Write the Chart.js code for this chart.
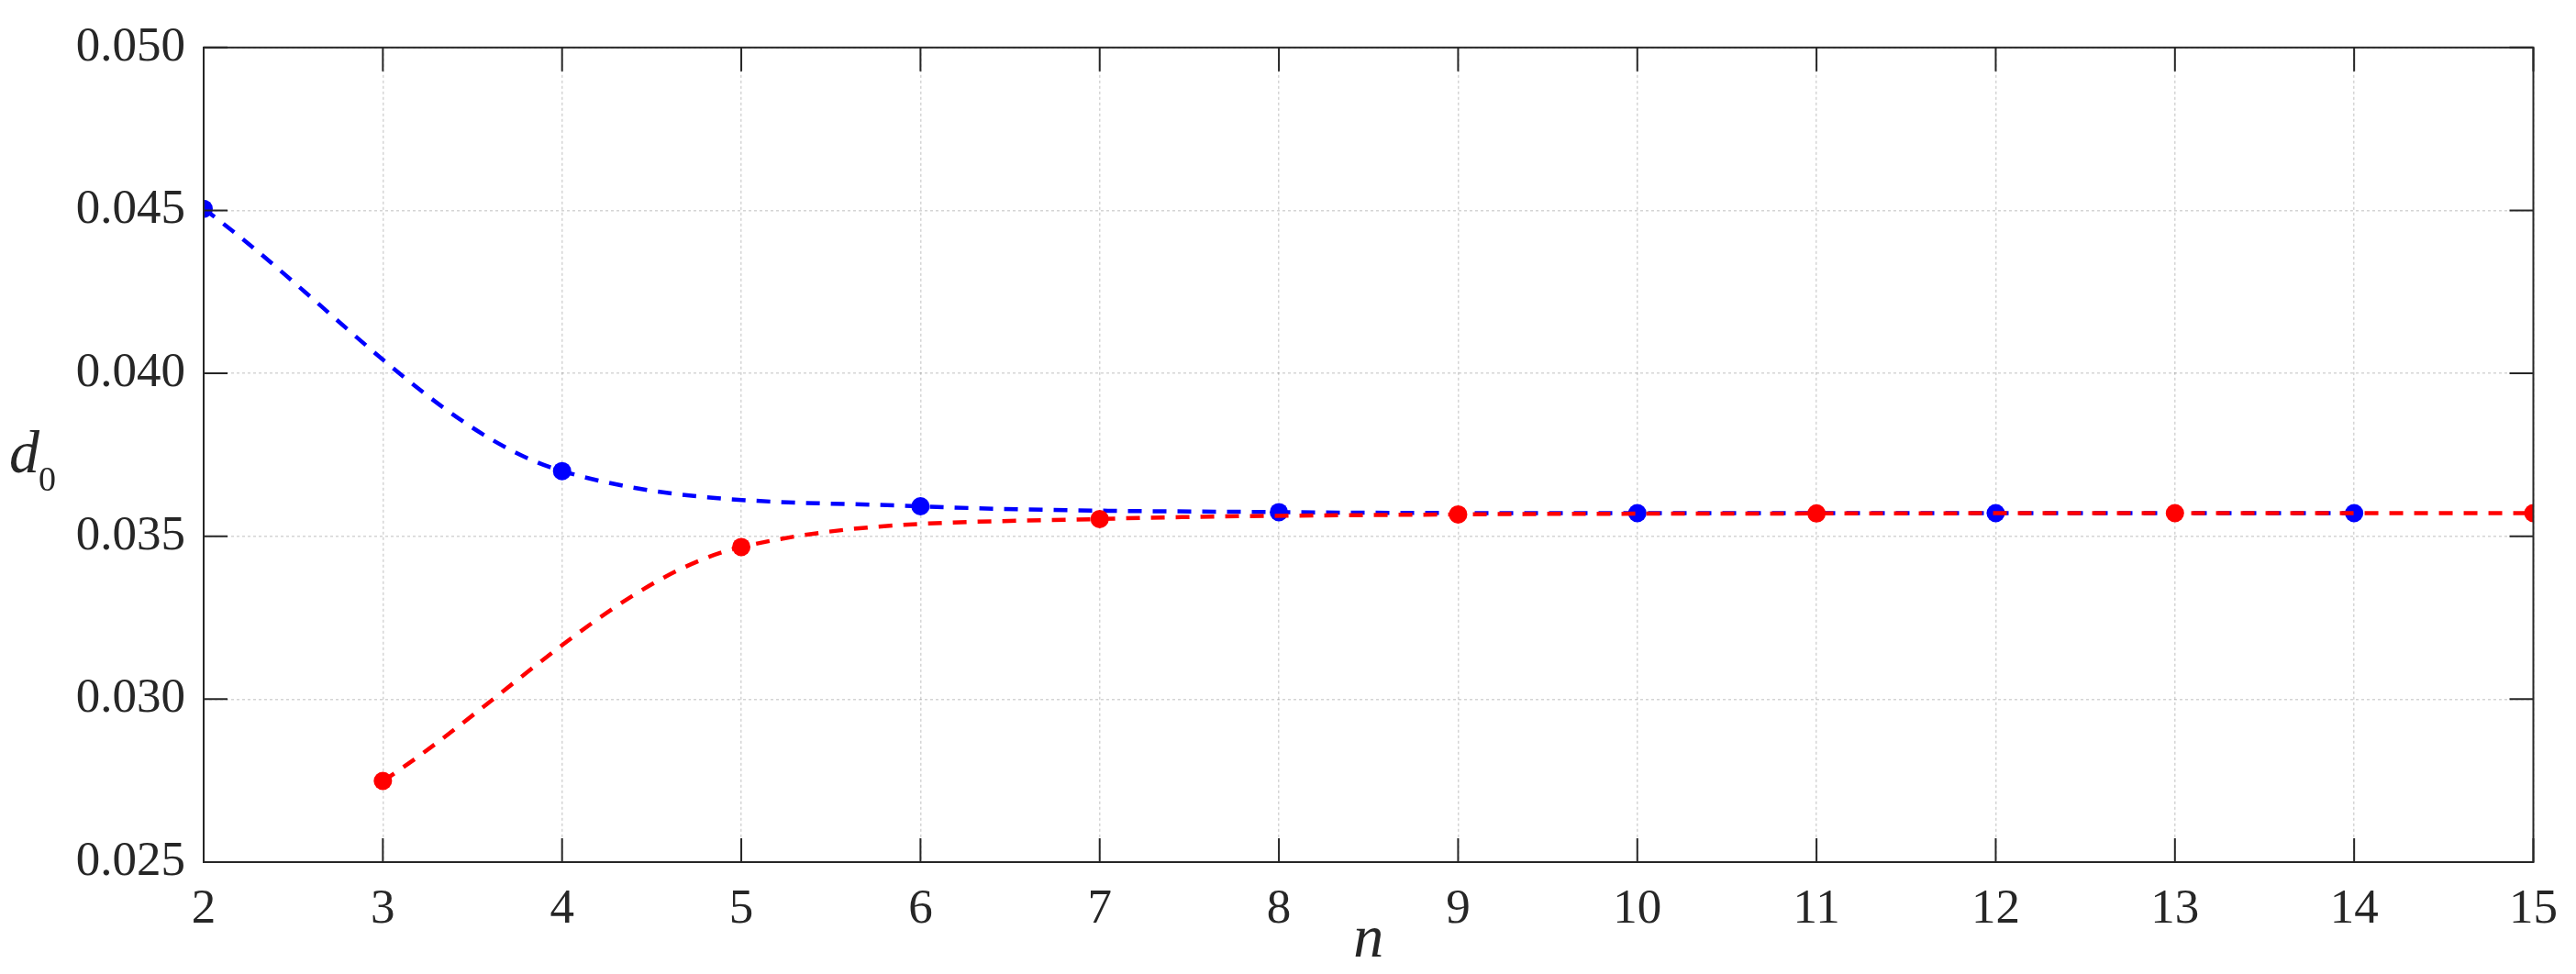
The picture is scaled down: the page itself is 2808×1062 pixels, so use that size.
<!DOCTYPE html>
<html>
<head>
<meta charset="utf-8">
<script src="https://cdn.jsdelivr.net/npm/chart.js@4.4.1/dist/chart.umd.min.js"></script>
<style>
  html, body { margin: 0; padding: 0; background: #fff; }
  #wrap { position: relative; width: 2808px; height: 1062px; }
  #ylab { position: absolute; left: 0; top: 0; font-family: "Liberation Serif", serif; color: #262626; line-height: 1; }
  #ylab .d { position: absolute; left: 10px; top: 460px; font-size: 66px; font-style: italic; }
  #ylab .s { position: absolute; left: 42px; top: 503px; font-size: 38px; }
</style>
</head>
<body>
<div id="wrap">
  <canvas id="line_chart" width="2808" height="1062"></canvas>
  <div id="ylab"><span class="d">d</span><span class="s">0</span></div>
</div>
<script>
// n values and d0 for the two series
var nBlue = [2, 4, 6, 8, 10, 12, 14];
var d0Blue = [0.04505, 0.03700, 0.03592, 0.03574, 0.03571, 0.03571, 0.03571];
var nRed = [3, 5, 7, 9, 11, 13, 15];
var d0Red = [0.02749, 0.03467, 0.03553, 0.03567, 0.03570, 0.03571, 0.03571];
var xTicks = [2, 3, 4, 5, 6, 7, 8, 9, 10, 11, 12, 13, 14, 15];
var yTicks = [0.025, 0.030, 0.035, 0.040, 0.045, 0.050];

var axisColor = '#262626';
var serif = "'Liberation Serif', 'Times New Roman', serif";

function points(xs, ys) {
    return xs.map(function (x, i) { return { x: x, y: ys[i] }; });
}

// box round the plot with inward tick marks on all four sides
var boxTicks = {
    id: 'boxTicks',
    afterDatasetsDraw: function (chart) {
        var ctx = chart.ctx, a = chart.chartArea;
        var xs = chart.scales.x, ys = chart.scales.y;
        var len = 26;
        ctx.save();
        ctx.strokeStyle = axisColor;
        ctx.lineWidth = 2;
        ctx.beginPath();
        xTicks.forEach(function (v) {
            var px = xs.getPixelForValue(v);
            ctx.moveTo(px, a.bottom); ctx.lineTo(px, a.bottom - len);
            ctx.moveTo(px, a.top); ctx.lineTo(px, a.top + len);
        });
        yTicks.forEach(function (v) {
            var py = ys.getPixelForValue(v);
            ctx.moveTo(a.left, py); ctx.lineTo(a.left + len, py);
            ctx.moveTo(a.right, py); ctx.lineTo(a.right - len, py);
        });
        ctx.stroke();
        ctx.strokeRect(a.left, a.top, a.right - a.left, a.bottom - a.top);
        ctx.restore();
    }
};

new Chart(document.getElementById('line_chart').getContext('2d'), {
    type: 'line',
    data: {
        datasets: [{
            label: 'blue',
            data: points(nBlue, d0Blue),
            borderColor: '#0000ff',
            backgroundColor: '#0000ff',
            borderWidth: 4.5,
            borderDash: [15, 12],
            cubicInterpolationMode: 'monotone',
            pointRadius: 10,
            pointBorderWidth: 0,
            pointBackgroundColor: '#0000ff',
            fill: false,
            order: 2
        }, {
            label: 'red',
            data: points(nRed, d0Red),
            borderColor: '#ff0000',
            backgroundColor: '#ff0000',
            borderWidth: 4.5,
            borderDash: [15, 12],
            cubicInterpolationMode: 'monotone',
            pointRadius: 10,
            pointBorderWidth: 0,
            pointBackgroundColor: '#ff0000',
            fill: false,
            order: 1
        }]
    },
    options: {
        responsive: false,
        animation: false,
        devicePixelRatio: 1,
        layout: { padding: { left: 0, right: 44, top: 40, bottom: 0 } },
        plugins: { legend: { display: false }, tooltip: { enabled: false } },
        scales: {
            x: {
                type: 'linear',
                min: 2,
                max: 15,
                afterFit: function (scale) { scale.height = 122; },
                afterBuildTicks: function (scale) { scale.ticks = xTicks.map(function (v) { return { value: v }; }); },
                ticks: {
                    padding: 20,
                    color: axisColor,
                    font: { family: serif, size: 53 },
                    maxRotation: 0
                },
                grid: { color: 'rgba(38,38,38,0.2)', lineWidth: 1.5, drawTicks: false },
                border: { display: false, dash: [3, 3] },
                title: {
                    display: true,
                    text: 'n',
                    color: axisColor,
                    font: { family: serif, size: 66, style: 'italic', lineHeight: 1 },
                    padding: { top: 0, bottom: 3 }
                }
            },
            y: {
                min: 0.025,
                max: 0.050,
                afterFit: function (scale) { scale.width = 222; },
                afterBuildTicks: function (scale) { scale.ticks = yTicks.map(function (v) { return { value: v }; }); },
                ticks: {
                    padding: 20,
                    color: axisColor,
                    font: { family: serif, size: 53 },
                    callback: function (v) { return v.toFixed(3); }
                },
                grid: { color: 'rgba(38,38,38,0.2)', lineWidth: 1.5, drawTicks: false },
                border: { display: false, dash: [3, 3] }
            }
        }
    },
    plugins: [boxTicks]
});
</script>
</body>
</html>
